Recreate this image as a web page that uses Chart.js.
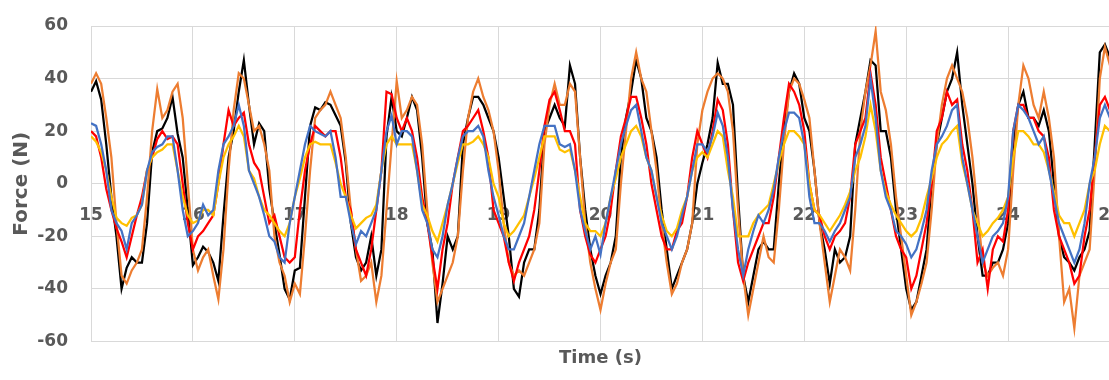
<!DOCTYPE html>
<html>
<head>
<meta charset="utf-8">
<script src="https://cdn.jsdelivr.net/npm/chart.js@4.4.1/dist/chart.umd.min.js"></script>
<style>
html,body{margin:0;padding:0;background:#fff;overflow:hidden;}
#wrap{width:1122px;height:380px;position:relative;}
</style>
</head>
<body>
<div id="wrap"><canvas id="c"></canvas></div>
<script>
const times = [
15.00,15.05,15.10,15.15,15.20,15.25,15.30,15.35,15.40,15.45,15.50,15.55,15.60,15.65,15.70,15.75,15.80,15.85,15.90,15.95,
16.00,16.05,16.10,16.15,16.20,16.25,16.30,16.35,16.40,16.45,16.50,16.55,16.60,16.65,16.70,16.75,16.80,16.85,16.90,16.95,
17.00,17.05,17.10,17.15,17.20,17.25,17.30,17.35,17.40,17.45,17.50,17.55,17.60,17.65,17.70,17.75,17.80,17.85,17.90,17.95,
18.00,18.05,18.10,18.15,18.20,18.25,18.30,18.35,18.40,18.45,18.50,18.55,18.60,18.65,18.70,18.75,18.80,18.85,18.90,18.95,
19.00,19.05,19.10,19.15,19.20,19.25,19.30,19.35,19.40,19.45,19.50,19.55,19.60,19.65,19.70,19.75,19.80,19.85,19.90,19.95,
20.00,20.05,20.10,20.15,20.20,20.25,20.30,20.35,20.40,20.45,20.50,20.55,20.60,20.65,20.70,20.75,20.80,20.85,20.90,20.95,
21.00,21.05,21.10,21.15,21.20,21.25,21.30,21.35,21.40,21.45,21.50,21.55,21.60,21.65,21.70,21.75,21.80,21.85,21.90,21.95,
22.00,22.05,22.10,22.15,22.20,22.25,22.30,22.35,22.40,22.45,22.50,22.55,22.60,22.65,22.70,22.75,22.80,22.85,22.90,22.95,
23.00,23.05,23.10,23.15,23.20,23.25,23.30,23.35,23.40,23.45,23.50,23.55,23.60,23.65,23.70,23.75,23.80,23.85,23.90,23.95,
24.00,24.05,24.10,24.15,24.20,24.25,24.30,24.35,24.40,24.45,24.50,24.55,24.60,24.65,24.70,24.75,24.80,24.85,24.90,24.95,
25.00];

const blackSeries = [
35,39,32,15,-5,-20,-40,-32,-28,-30,-30,-15,12,20,21,25,33,19,10,-10,
-31,-28,-24,-26,-30,-37,-12,10,20,35,47,30,15,23,20,-2,-15,-27,-40,-44,
-33,-32,-5,22,29,28,31,30,26,22,8,-15,-28,-33,-30,-20,-35,-25,18,33,
20,18,25,33,28,10,-15,-25,-53,-38,-20,-25,-20,15,25,33,33,30,25,20,
10,-5,-20,-40,-43,-30,-25,-25,-10,20,25,30,25,22,45,38,10,-10,-25,-35,
-42,-35,-30,-20,10,25,35,47,40,25,20,10,-10,-25,-40,-35,-30,-25,-15,0,
8,15,25,46,38,38,30,-5,-35,-45,-35,-25,-22,-25,-25,0,20,35,42,38,
25,20,5,-15,-25,-38,-25,-30,-28,-20,15,25,35,47,45,20,20,10,-10,-25,
-40,-48,-45,-35,-25,0,15,25,35,40,50,30,15,0,-20,-35,-35,-30,-30,-25,
-15,15,30,35,25,25,22,28,20,0,-20,-28,-30,-33,-28,-25,-18,15,50,53,
48];

const orangeSeries = [
38,42,38,25,10,-15,-35,-38,-33,-30,-25,-5,20,36,25,28,35,38,25,0,
-25,-33,-28,-25,-35,-44,-25,5,28,42,40,30,20,22,15,5,-20,-30,-35,-45,
-38,-42,-20,5,25,28,30,35,30,25,10,-10,-25,-37,-35,-30,-45,-35,-10,15,
39,25,28,33,30,15,-10,-30,-45,-40,-35,-30,-20,5,25,35,40,33,28,20,
5,-15,-30,-35,-33,-35,-30,-25,-15,15,30,38,30,30,38,35,10,-15,-30,-40,
-48,-38,-30,-25,0,20,40,50,40,35,20,5,-15,-30,-42,-38,-30,-25,-15,15,
28,35,40,42,40,35,20,-10,-35,-50,-40,-30,-20,-28,-30,-10,15,35,40,38,
32,25,5,-15,-30,-45,-35,-25,-28,-33,-10,20,35,45,58,35,28,15,-5,-20,
-35,-50,-45,-38,-30,-10,15,30,40,45,40,35,25,10,-10,-30,-35,-32,-30,-35,
-25,5,30,45,40,30,25,35,25,10,-20,-45,-40,-55,-35,-30,-25,5,40,52,
45];

const redSeries = [
20,18,10,-2,-10,-17,-22,-28,-20,-12,-5,5,10,17,20,17,18,15,0,-15,
-25,-20,-18,-15,-12,0,15,28,22,25,27,15,8,5,-5,-15,-12,-20,-28,-30,
-28,-10,5,15,22,20,18,20,20,10,-5,-10,-25,-30,-35,-25,-10,5,35,34,
25,20,25,20,10,-5,-15,-28,-40,-25,-15,0,10,20,22,25,28,20,10,-10,
-15,-20,-30,-37,-30,-25,-20,-10,5,22,32,35,28,20,20,15,-10,-20,-27,-30,
-25,-20,-10,5,18,25,33,33,25,15,0,-10,-20,-25,-25,-18,-15,-5,10,20,
15,10,20,32,28,15,-10,-30,-37,-30,-25,-20,-15,-15,-5,10,25,38,35,30,
20,0,-10,-12,-20,-25,-20,-18,-15,-5,15,20,25,42,30,10,0,-10,-20,-25,
-28,-40,-35,-25,-15,0,20,25,35,30,32,15,5,-10,-30,-25,-40,-25,-20,-22,
-10,20,30,30,25,25,20,18,10,-10,-20,-25,-30,-38,-35,-20,-10,10,30,33,
28];

const blueSeries = [
23,22,15,5,-10,-15,-18,-25,-15,-12,-8,5,12,14,15,18,18,5,-10,-20,
-18,-15,-8,-12,-10,5,15,18,22,30,22,5,0,-5,-12,-20,-22,-28,-30,-15,
-5,5,15,22,20,19,18,20,10,-5,-5,-15,-23,-18,-20,-15,-10,5,20,26,
15,20,20,18,5,-10,-15,-25,-28,-20,-8,0,10,18,20,20,22,18,5,-5,
-12,-20,-25,-25,-20,-15,-5,5,15,22,22,22,15,14,15,5,-10,-18,-25,-20,
-27,-15,-5,5,15,22,28,30,20,10,5,-5,-15,-20,-25,-20,-12,-5,5,15,
15,12,18,27,22,10,-10,-25,-35,-25,-18,-12,-15,-10,-2,10,20,27,27,25,
15,-5,-15,-15,-18,-22,-18,-15,-10,-5,10,15,22,40,25,5,-5,-10,-18,-20,
-23,-28,-25,-18,-10,5,15,18,22,28,30,10,0,-10,-20,-30,-25,-20,-18,-15,
-5,20,30,28,25,20,15,18,5,-5,-15,-20,-25,-30,-25,-15,0,10,25,30,
25];

const yellowSeries = [
18,16,12,5,-5,-13,-15,-16,-13,-12,-8,5,10,12,13,15,15,5,-5,-12,
-15,-14,-10,-10,-12,0,10,15,18,22,18,5,2,-5,-10,-12,-15,-18,-20,-15,
-5,2,10,15,16,15,15,15,8,0,-5,-12,-17,-15,-13,-12,-8,5,15,18,
15,15,15,15,5,-8,-12,-18,-22,-15,-8,0,8,15,15,16,18,15,10,0,
-5,-15,-20,-18,-15,-12,-5,2,10,18,18,18,13,12,13,5,-5,-15,-18,-18,
-20,-15,-5,2,10,15,20,22,18,10,5,-5,-12,-18,-20,-17,-10,-5,5,10,
12,10,15,20,18,5,-5,-20,-20,-20,-15,-12,-10,-8,0,8,15,20,20,18,
15,0,-10,-12,-15,-18,-15,-12,-8,-3,5,10,18,30,20,5,-3,-8,-12,-15,
-18,-20,-18,-13,-5,2,10,15,17,20,22,8,0,-10,-15,-20,-18,-15,-13,-10,
-5,10,20,20,18,15,15,12,5,-3,-12,-15,-15,-20,-15,-10,0,5,15,22,
20];

const yTicks = [-60,-40,-20,0,20,40,60];
const xTickValues = [15,16,17,18,19,20,21,22,23,24,25];
const xTickLabels = ['15','16','17','18','19','20','21','22','23','24','25'];

function pts(vals){ return times.map((t,i)=>({x:t,y:vals[i]})); }
function ds(label, vals, color){
  return {label, data: pts(vals), borderColor: color, backgroundColor: color,
    borderWidth: 2.25, pointRadius: 0, tension: 0, fill: false, xAxisID: 'x', yAxisID: 'y'};
}

const textColor = '#595959';
const gridColor = '#D9D9D9';
const FONT = "'DejaVu Sans', sans-serif";

// x tick labels sit just below the y = 0 crossing line (Excel "axis crosses at 0")
const crossingLabels = {
  id: 'crossingLabels',
  beforeDatasetsDraw(chart) {
    const { ctx, scales: { x, y } } = chart;
    const y0 = y.getPixelForValue(0);
    ctx.save();
    ctx.font = "bold 17px " + FONT;
    ctx.fillStyle = textColor;
    ctx.textAlign = 'center';
    ctx.textBaseline = 'middle';
    xTickValues.forEach((v, i) => ctx.fillText(xTickLabels[i], x.getPixelForValue(v), y0 + 32));
    ctx.restore();
  }
};

new Chart(document.getElementById('c'), {
  type: 'line',
  data: {
    datasets: [
      ds('Blue', blueSeries, '#4472C4'),
      ds('Yellow', yellowSeries, '#FFC000'),
      ds('Red', redSeries, '#FF0000'),
      ds('Orange', orangeSeries, '#ED7D31'),
      ds('Black', blackSeries, '#000000')
    ]
  },
  plugins: [crossingLabels],
  options: {
    responsive: true,
    maintainAspectRatio: false,
    animation: false,
    devicePixelRatio: 1,
    layout: { padding: { top: 26, right: 12, bottom: 0, left: 0 } },
    plugins: { legend: { display: false }, tooltip: { enabled: false }, title: { display: false } },
    scales: {
      x: {
        type: 'linear', position: 'bottom', min: 15, max: 25,
        afterBuildTicks: (s) => { s.ticks = xTickValues.map(v => ({ value: v })); },
        grid: { color: gridColor, lineWidth: 1, drawTicks: false },
        border: { display: false },
        ticks: { display: false },
        title: { display: true, text: 'Time (s)', color: textColor,
          font: { family: FONT, size: 18, weight: 'bold' }, padding: { top: 6, bottom: 11 } },
        afterFit: (s) => { s.paddingLeft = 0; s.paddingRight = 0; }
      },
      y: {
        type: 'linear', min: -60, max: 60,
        afterBuildTicks: (s) => { s.ticks = yTicks.map(v => ({ value: v })); },
        grid: { color: gridColor, lineWidth: 1, drawTicks: false },
        border: { display: false },
        ticks: { color: textColor, padding: 23, font: { family: FONT, size: 17, weight: 'bold' } },
        title: { display: true, text: 'Force (N)', color: textColor,
          font: { family: FONT, size: 20, weight: 'bold' }, padding: { top: 10, bottom: 3 } },
        afterFit: (s) => { s.width = 91; s.paddingTop = 0; s.paddingBottom = 0; }
      }
    }
  }
});
</script>
</body>
</html>
